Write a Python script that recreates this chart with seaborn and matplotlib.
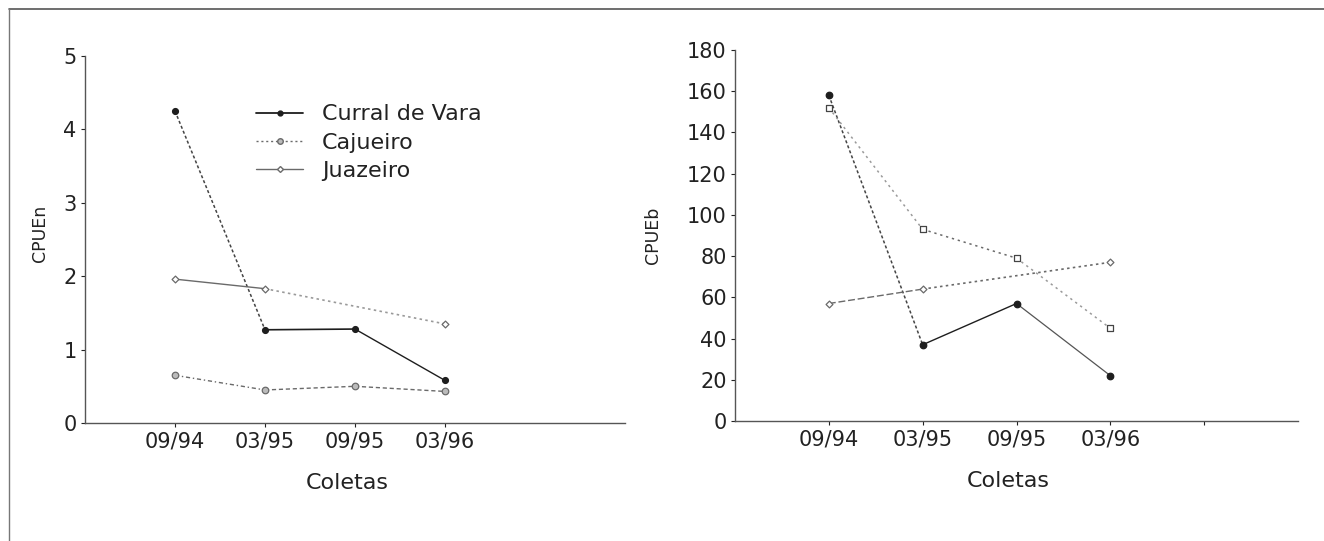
import numpy as np
import pandas as pd
import matplotlib
matplotlib.use("Agg")
import matplotlib.pyplot as plt
from matplotlib.lines import Line2D
import seaborn as sns

# ---- data ----
coletas = ["09/94", "03/95", "09/95", "03/96"]
sites = ["Curral de Vara", "Cajueiro", "Juazeiro"]

cpuen_curral = [4.25, 1.27, 1.28, 0.58]
cpuen_cajueiro = [0.65, 0.45, 0.50, 0.43]
cpuen_juazeiro = [1.96, 1.83, np.nan, 1.35]

cpueb_curral = [158, 37, 57, 22]
cpueb_cajueiro = [152, 93, 79, 45]
cpueb_juazeiro = [57, 64, np.nan, 77]

sns.set_theme(style="white")
plt.rcParams["font.family"] = ["DejaVu Sans"]

W, H = 1324, 541
fig = plt.figure(figsize=(W / 100, H / 100), dpi=100)


def px_axes(x0, x1, y_top, y_bot):
    return fig.add_axes([x0 / W, 1 - y_bot / H, (x1 - x0) / W, (y_bot - y_top) / H])


axL = px_axes(85, 625, 56, 423)
axR = px_axes(735, 1298, 50, 421)

xpos = np.arange(1, len(coletas) + 1)


def draw_series(ax, vals, seg_styles, color, marker, mfc, ms):
    df = pd.DataFrame({"x": xpos, "y": vals}).dropna().reset_index(drop=True)
    for i in range(len(df) - 1):
        seg = df.iloc[i:i + 2]
        ls, c, w = seg_styles[i]
        sns.lineplot(data=seg, x="x", y="y", ax=ax, color=c, linestyle=ls,
                     linewidth=w, sort=False, legend=False)
    sns.scatterplot(data=df, x="x", y="y", ax=ax, marker=marker, s=ms,
                    facecolor=mfc, edgecolor=color, linewidth=0.9,
                    legend=False, zorder=5)


dark = "#1e1e1e"
mid = "#6a6a6a"
light = "#9a9a9a"

# Left panel
draw_series(axL, cpuen_curral,
            [((0, (2, 1.5)), "#444444", 1.1), ("-", dark, 1.2), ("-", dark, 1.0)],
            dark, "o", dark, 18)
draw_series(axL, cpuen_cajueiro,
            [((0, (3, 2, 1, 2)), mid, 1.0), ((0, (3, 2)), mid, 1.0), ((0, (3, 2)), mid, 1.0)],
            mid, "o", "#bbbbbb", 22)
draw_series(axL, cpuen_juazeiro,
            [("-", mid, 1.0), ((0, (1.5, 2)), light, 1.2)],
            mid, "D", "white", 12)

# Right panel
draw_series(axR, cpueb_curral,
            [((0, (2, 1.5)), "#444444", 1.1), ("-", dark, 1.0), ("-", "#555555", 0.9)],
            dark, "o", dark, 22)
draw_series(axR, cpueb_cajueiro,
            [((0, (1.5, 2.5)), light, 1.1), ((0, (1.5, 2.5)), mid, 1.1), ((0, (1.5, 2.5)), light, 1.1)],
            "#444444", "s", "white", 22)
draw_series(axR, cpueb_juazeiro,
            [((0, (5, 2)), mid, 1.0), ((0, (1.5, 2)), mid, 1.2)],
            mid, "D", "white", 12)

for ax, ylim, yticks, ylabel, ylab_xy, extra in [
    (axL, (0, 5), np.arange(0, 6, 1), "CPUEn", (-0.067, 0.518), False),
    (axR, (0, 180), np.arange(0, 181, 20), "CPUEb", (-0.13, 0.50), True),
]:
    ax.set_xlim(0, 6)
    ax.set_ylim(*ylim)
    if extra:
        ax.set_xticks(list(xpos) + [5])
        ax.set_xticklabels(coletas + [""])
    else:
        ax.set_xticks(xpos)
        ax.set_xticklabels(coletas)
    ax.set_yticks(yticks)
    ax.set_xlabel("Coletas", fontsize=16, color="#222222")
    ax.xaxis.set_label_coords(0.485, -0.135)
    ax.set_ylabel(ylabel, fontsize=12.5, color="#222222")
    ax.yaxis.set_label_coords(*ylab_xy)
    ax.tick_params(axis="both", labelsize=15, colors="#222222", length=3,
                   width=0.8, direction="out", left=True, bottom=True, pad=3)
    for side in ["top", "right"]:
        ax.spines[side].set_visible(False)
    for side in ["left", "bottom"]:
        ax.spines[side].set_color("#555555")
        ax.spines[side].set_linewidth(1.0)
    ax.set_facecolor("white")
    ax.grid(False)

handles = [
    Line2D([0], [0], color=dark, lw=1.3, ls="-", marker="o", ms=3.5, mfc=dark, mec=dark),
    Line2D([0], [0], color=mid, lw=1.0, ls=(0, (1.5, 2)), marker="o", ms=4, mfc="#bbbbbb", mec=mid),
    Line2D([0], [0], color=mid, lw=1.0, ls="-", marker="D", ms=3, mfc="white", mec=mid),
]
axL.legend(handles, sites, loc="upper left", bbox_to_anchor=(0.317, 0.868),
           frameon=False, fontsize=16, handlelength=2.1, handletextpad=0.85,
           labelspacing=0.37, borderpad=0, borderaxespad=0, labelcolor="#222222")

# scan frame (top and left edges)
fig.add_artist(Line2D([9 / W, 1.0], [1 - 9 / H, 1 - 9 / H], transform=fig.transFigure,
                      color="#555555", lw=1.2))
fig.add_artist(Line2D([9 / W, 9 / W], [0.0, 1 - 9 / H], transform=fig.transFigure,
                      color="#777777", lw=1.0))

fig.savefig("out.png", dpi=100, facecolor="white")
